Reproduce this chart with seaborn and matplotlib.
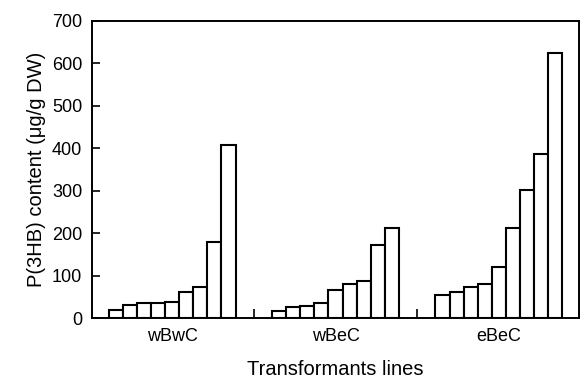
import pandas as pd
import matplotlib
matplotlib.use("Agg")
import matplotlib.pyplot as plt
import seaborn as sns

groups = ["wBwC", "wBeC", "eBeC"]
wbwc = [19, 31, 35, 35, 37, 62, 74, 180, 407]
wbec = [17, 27, 29, 35, 66, 80, 86, 172, 213]
ebec = [54, 61, 72, 80, 121, 211, 301, 386, 625]

# bar slots per group and the gap (in bar widths) between groups
gap = 2.62
n = len(wbwc)
step = n + gap

rows = []
for g, (name, vals) in enumerate(zip(groups, [wbwc, wbec, ebec])):
    for i, v in enumerate(vals):
        rows.append({"group": name, "pos": g * step + i, "value": v})
df = pd.DataFrame(rows)

sns.set_style("ticks")
plt.rcParams["font.family"] = ["Liberation Sans", "DejaVu Sans"]
plt.rcParams["text.color"] = "black"
plt.rcParams["axes.labelcolor"] = "black"
plt.rcParams["xtick.color"] = "black"
plt.rcParams["ytick.color"] = "black"

fig = plt.figure(figsize=(5.81, 3.82), dpi=100)
ax = fig.add_axes([0.1583, 0.1675, 0.8383, 0.7783])

sns.barplot(data=df, x="pos", y="value", native_scale=True, width=1,
            color="white", saturation=1, edgecolor="black", linewidth=1.5,
            errorbar=None, ax=ax)

ax.set_xlim(-1.72, (len(groups) - 1) * step + n - 1 + 1.72)
ax.set_ylim(0, 700)
ax.set_yticks(range(0, 701, 100))

# separator ticks between groups, labels at group centres
seps = [g * step + n - 0.5 + gap / 2 for g in range(len(groups) - 1)]
ax.set_xticks(seps)
ax.set_xticklabels([])
ax.set_xticks([g * step + (n - 1) / 2 for g in range(len(groups))], minor=True)
ax.set_xticklabels(groups, minor=True)
ax.tick_params(axis="x", which="major", direction="in", length=6.5, width=1.2)
ax.tick_params(axis="x", which="minor", length=0, pad=7, labelsize=13)
ax.tick_params(axis="y", direction="in", length=5.5, width=1.2, pad=7,
               labelsize=13)

for s in ax.spines.values():
    s.set_linewidth(1.4)
    s.set_color("black")

ax.set_xlabel("Transformants lines", fontsize=14.5, labelpad=11)
ax.set_ylabel("P(3HB) content (\u03bcg/g DW)", fontsize=14.5, labelpad=4)

fig.savefig("out.png", dpi=100)
